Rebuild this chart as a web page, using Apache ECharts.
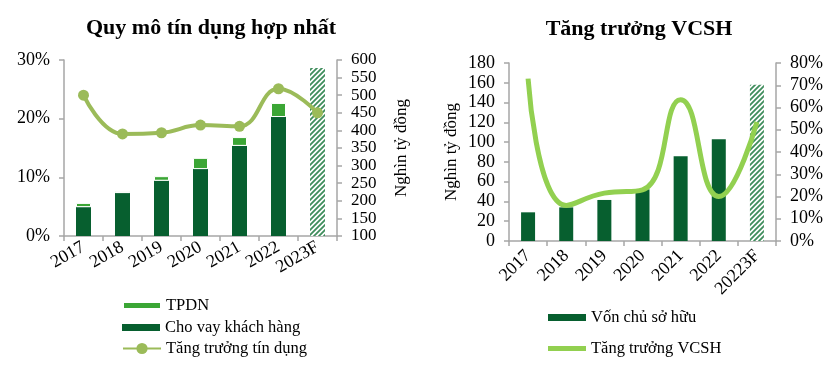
<!DOCTYPE html>
<html>
<head>
<meta charset="utf-8">
<script src="https://cdn.jsdelivr.net/npm/echarts@6/dist/echarts.min.js"></script>
<style>
html,body{margin:0;padding:0;background:#fff;}
#main{width:840px;height:370px;}
</style>
</head>
<body>
<div id="main"></div>
<script>
// ---- Data ----
const categories = ['2017', '2018', '2019', '2020', '2021', '2022', '2023F'];
const loanValues = [182, 222, 257, 290, 356, 438, null];     // Cho vay khách hàng (nghìn tỷ)
const bondValues = [12, 6, 13, 32, 25, 40, null];            // TPDN (nghìn tỷ)
const creditForecast = [null, null, null, null, null, null, 577];
const creditGrowth = [24.0, 17.4, 17.6, 18.9, 18.7, 25.1, 21.0]; // %

const categories2 = ['2017', '2018', '2019', '2020', '2021', '2022', '20223F'];
const equityValues = [29, 34, 41.5, 52.3, 85.8, 103, null];  // Vốn chủ sở hữu
const equityForecast = [null, null, null, null, null, null, 158];
const equityGrowth = [73, 16, 21.5, 23, 63.5, 20, 53.5];     // %

const leftPctTicks = [0, 30, 10];     // min, max, interval
const leftValTicks = [100, 600, 50];
const rightValTicks = [0, 180, 20];
const rightPctTicks = [0, 80, 10];

// ---- Styles ----
const FONT = 'Liberation Serif, Times New Roman, serif';
const DARK = '#075f2f';
const TPDN = '#3ba635';
const LINE1 = '#9bbb59';
const LINE2 = '#92d050';
const AXIS = '#a6a6a6';

function hatch() {
  const c = document.createElement('canvas');
  c.width = 5; c.height = 5;
  const g = c.getContext('2d');
  g.fillStyle = '#ffffff';
  g.fillRect(0, 0, 5, 5);
  g.strokeStyle = '#3f8d5c';
  g.lineWidth = 1.8;
  g.beginPath();
  g.moveTo(-1, 6); g.lineTo(6, -1);
  g.moveTo(-1, 1); g.lineTo(1, -1);
  g.moveTo(4, 6); g.lineTo(6, 4);
  g.stroke();
  return c;
}
const hatchPattern = { image: hatch(), repeat: 'repeat' };

const axisLine = { show: true, lineStyle: { color: AXIS, width: 1.5 } };
const axisTick = { show: true, length: 5, lineStyle: { color: AXIS, width: 1.5 } };
const labelStyle = { color: '#000', fontFamily: FONT, fontSize: 18 };
const legendText = { color: '#000', fontFamily: FONT, fontSize: 16.5 };
const BAR_ICON = 'path://M0,0H38V7H0Z';

function legendItem(left, top, name, icon) {
  const d = icon ? { name: name, icon: icon } : { name: name };
  return { left: left, top: top, padding: 0, itemWidth: 38, itemHeight: 14, itemGap: 0,
           textStyle: legendText, data: [d] };
}

const chart = echarts.init(document.getElementById('main'), null, { renderer: 'canvas' });

chart.setOption({
  animation: false,
  backgroundColor: '#fff',
  graphic: [
    { type: 'text', x: 211, y: 28, style: { text: 'Quy mô tín dụng hợp nhất', align: 'center', verticalAlign: 'middle', font: 'bold 22px ' + FONT, fill: '#000' } },
    { type: 'text', x: 639, y: 29, style: { text: 'Tăng trưởng VCSH', align: 'center', verticalAlign: 'middle', font: 'bold 22px ' + FONT, fill: '#000' } }
  ],
  legend: [
    legendItem(122, 297, 'TPDN', BAR_ICON),
    legendItem(122, 319, 'Cho vay khách hàng', BAR_ICON),
    legendItem(122, 340, 'Tăng trưởng tín dụng'),
    legendItem(548, 309, 'Vốn chủ sở hữu', BAR_ICON),
    legendItem(548, 340, 'Tăng trưởng VCSH', 'path://M0,0H38V5H0Z')
  ],
  grid: [
    { left: 64, top: 60, width: 273, height: 176 },
    { left: 509, top: 63, width: 267, height: 178 }
  ],
  xAxis: [
    {
      type: 'category', gridIndex: 0, data: categories, boundaryGap: true,
      axisLine: axisLine, axisTick: axisTick,
      axisLabel: Object.assign({}, labelStyle, { rotate: 30, margin: 10, interval: 0 })
    },
    {
      type: 'category', gridIndex: 1, data: categories2, boundaryGap: true,
      axisLine: axisLine, axisTick: axisTick,
      axisLabel: Object.assign({}, labelStyle, { rotate: 45, margin: 12, interval: 0 })
    }
  ],
  yAxis: [
    {
      type: 'value', gridIndex: 0, position: 'left',
      min: leftPctTicks[0], max: leftPctTicks[1], interval: leftPctTicks[2],
      axisLine: axisLine, axisTick: axisTick, splitLine: { show: false },
      axisLabel: Object.assign({}, labelStyle, { margin: 14, formatter: '{value}%' })
    },
    {
      type: 'value', gridIndex: 0, position: 'right',
      min: leftValTicks[0], max: leftValTicks[1], interval: leftValTicks[2],
      axisLine: axisLine, axisTick: axisTick, splitLine: { show: false },
      axisLabel: Object.assign({}, labelStyle, { margin: 14, fontSize: 17 }),
      name: 'Nghìn tỷ đồng', nameLocation: 'middle', nameRotate: 90, nameGap: 56,
      nameTextStyle: { color: '#000', fontFamily: FONT, fontSize: 17 }
    },
    {
      type: 'value', gridIndex: 1, position: 'left',
      min: rightValTicks[0], max: rightValTicks[1], interval: rightValTicks[2],
      axisLine: axisLine, axisTick: axisTick, splitLine: { show: false },
      axisLabel: Object.assign({}, labelStyle, { margin: 14 }),
      name: 'Nghìn tỷ đồng', nameLocation: 'middle', nameRotate: 90, nameGap: 49,
      nameTextStyle: { color: '#000', fontFamily: FONT, fontSize: 17 }
    },
    {
      type: 'value', gridIndex: 1, position: 'right',
      min: rightPctTicks[0], max: rightPctTicks[1], interval: rightPctTicks[2],
      axisLine: axisLine, axisTick: axisTick, splitLine: { show: false },
      axisLabel: Object.assign({}, labelStyle, { margin: 14, formatter: '{value}%' })
    }
  ],
  series: [
    {
      name: 'Cho vay khách hàng', type: 'bar', xAxisIndex: 0, yAxisIndex: 1, stack: 'credit',
      data: loanValues, barWidth: 15, itemStyle: { color: DARK }
    },
    {
      name: 'TPDN', type: 'bar', xAxisIndex: 0, yAxisIndex: 1, stack: 'credit',
      data: bondValues, barWidth: 15, itemStyle: { color: TPDN, borderColor: '#fff', borderWidth: 1 }
    },
    {
      name: 'Dự báo 2023F', type: 'bar', xAxisIndex: 0, yAxisIndex: 1, stack: 'credit',
      data: creditForecast, barWidth: 15, itemStyle: { color: hatchPattern }
    },
    {
      name: 'Tăng trưởng tín dụng', type: 'line', xAxisIndex: 0, yAxisIndex: 0,
      data: creditGrowth, smooth: 0.45, symbol: 'circle', symbolSize: 11,
      lineStyle: { color: LINE1, width: 4 }, itemStyle: { color: LINE1 }, z: 5
    },
    {
      name: 'Vốn chủ sở hữu', type: 'bar', xAxisIndex: 1, yAxisIndex: 2, stack: 'equity',
      data: equityValues, barWidth: 14, itemStyle: { color: DARK }
    },
    {
      name: 'Dự báo VCSH', type: 'bar', xAxisIndex: 1, yAxisIndex: 2, stack: 'equity',
      data: equityForecast, barWidth: 14, itemStyle: { color: hatchPattern }
    },
    {
      name: 'Tăng trưởng VCSH', type: 'line', xAxisIndex: 1, yAxisIndex: 3,
      data: equityGrowth, smooth: 0.5, symbol: 'none',
      lineStyle: { color: LINE2, width: 5 }, itemStyle: { color: LINE2 }, z: 5
    }
  ]
});
</script>
</body>
</html>
